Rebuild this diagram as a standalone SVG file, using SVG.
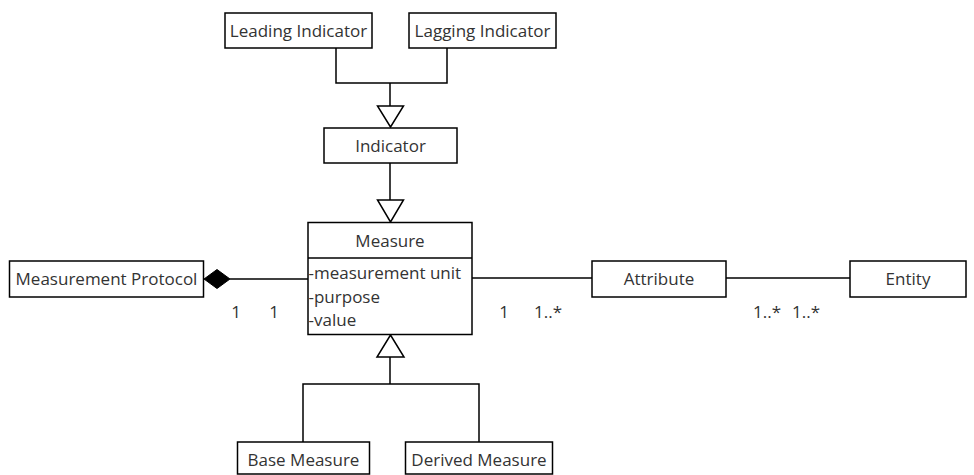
<svg xmlns="http://www.w3.org/2000/svg" width="974" height="475" viewBox="0 0 974 475">
  <style>
    .box { fill: #fff; stroke: #000; stroke-width: 1.5; }
    .ln { fill: none; stroke: #000; stroke-width: 1.5; }
    .tri { fill: #fff; stroke: #000; stroke-width: 1.5; stroke-linejoin: miter; }
    text { font-family: "Open Sans", Lato, sans-serif; font-size: 17px; fill: #333; }
    .c { text-anchor: middle; }
  </style>
  <rect width="974" height="475" fill="#fff"/>

  <g id="connectors">
    <!-- Leading/Lagging to Indicator -->
    <polyline class="ln" points="336,48 336,83 447,83 447,48"/>
    <line class="ln" x1="390" y1="83" x2="390" y2="106"/>
    <polygon class="tri" points="377.5,106 403.5,106 390.5,127"/>
    <!-- Indicator to Measure -->
    <line class="ln" x1="390" y1="163" x2="390" y2="200"/>
    <polygon class="tri" points="377.5,200 403.5,200 390.5,222"/>
    <!-- Base/Derived to Measure -->
    <polyline class="ln" points="303,442 303,384 479,384 479,442"/>
    <line class="ln" x1="390" y1="384" x2="390" y2="357"/>
    <polygon class="tri" points="377,357 404,357 390.5,335"/>
    <!-- Measurement Protocol composition -->
    <line class="ln" x1="230" y1="279" x2="308" y2="279"/>
    <polygon points="204,279 217,269.5 230,279 217,288.5" fill="#000" stroke="#000" stroke-width="1"/>
    <!-- Measure to Attribute -->
    <line class="ln" x1="472" y1="278" x2="592" y2="278"/>
    <!-- Attribute to Entity -->
    <line class="ln" x1="726" y1="278" x2="850" y2="278"/>
    <!-- multiplicities -->
    <text class="c" x="236" y="318">1</text>
    <text class="c" x="274" y="318">1</text>
    <text class="c" x="504" y="318">1</text>
    <text class="c" x="548" y="318">1..*</text>
    <text class="c" x="767" y="318">1..*</text>
    <text class="c" x="806" y="318">1..*</text>
  </g>

  <g id="leading-indicator">
    <rect class="box" x="225" y="13" width="147" height="35"/>
    <text class="c" x="298.5" y="36.5">Leading Indicator</text>
  </g>
  <g id="lagging-indicator">
    <rect class="box" x="409" y="13" width="147" height="35"/>
    <text class="c" x="482.5" y="36.5">Lagging Indicator</text>
  </g>
  <g id="indicator">
    <rect class="box" x="324" y="128" width="133" height="35"/>
    <text class="c" x="390.5" y="151.5">Indicator</text>
  </g>
  <g id="measure">
    <rect class="box" x="308" y="222.5" width="164" height="112"/>
    <line class="ln" x1="308" y1="258" x2="472" y2="258"/>
    <text class="c" x="390" y="246.5">Measure</text>
    <text x="308.5" y="279">-measurement unit</text>
    <text x="308.5" y="303">-purpose</text>
    <text x="308.5" y="326">-value</text>
  </g>
  <g id="measurement-protocol">
    <rect class="box" x="9.5" y="261" width="194" height="36"/>
    <text class="c" x="106.5" y="285">Measurement Protocol</text>
  </g>
  <g id="attribute">
    <rect class="box" x="592" y="261" width="134" height="36"/>
    <text class="c" x="659" y="285">Attribute</text>
  </g>
  <g id="entity">
    <rect class="box" x="850" y="261" width="116" height="36"/>
    <text class="c" x="908" y="285">Entity</text>
  </g>
  <g id="base-measure">
    <rect class="box" x="237.5" y="442" width="132" height="32"/>
    <text class="c" x="303.5" y="466">Base Measure</text>
  </g>
  <g id="derived-measure">
    <rect class="box" x="405.5" y="442" width="147" height="32"/>
    <text class="c" x="479" y="466">Derived Measure</text>
  </g>
</svg>
